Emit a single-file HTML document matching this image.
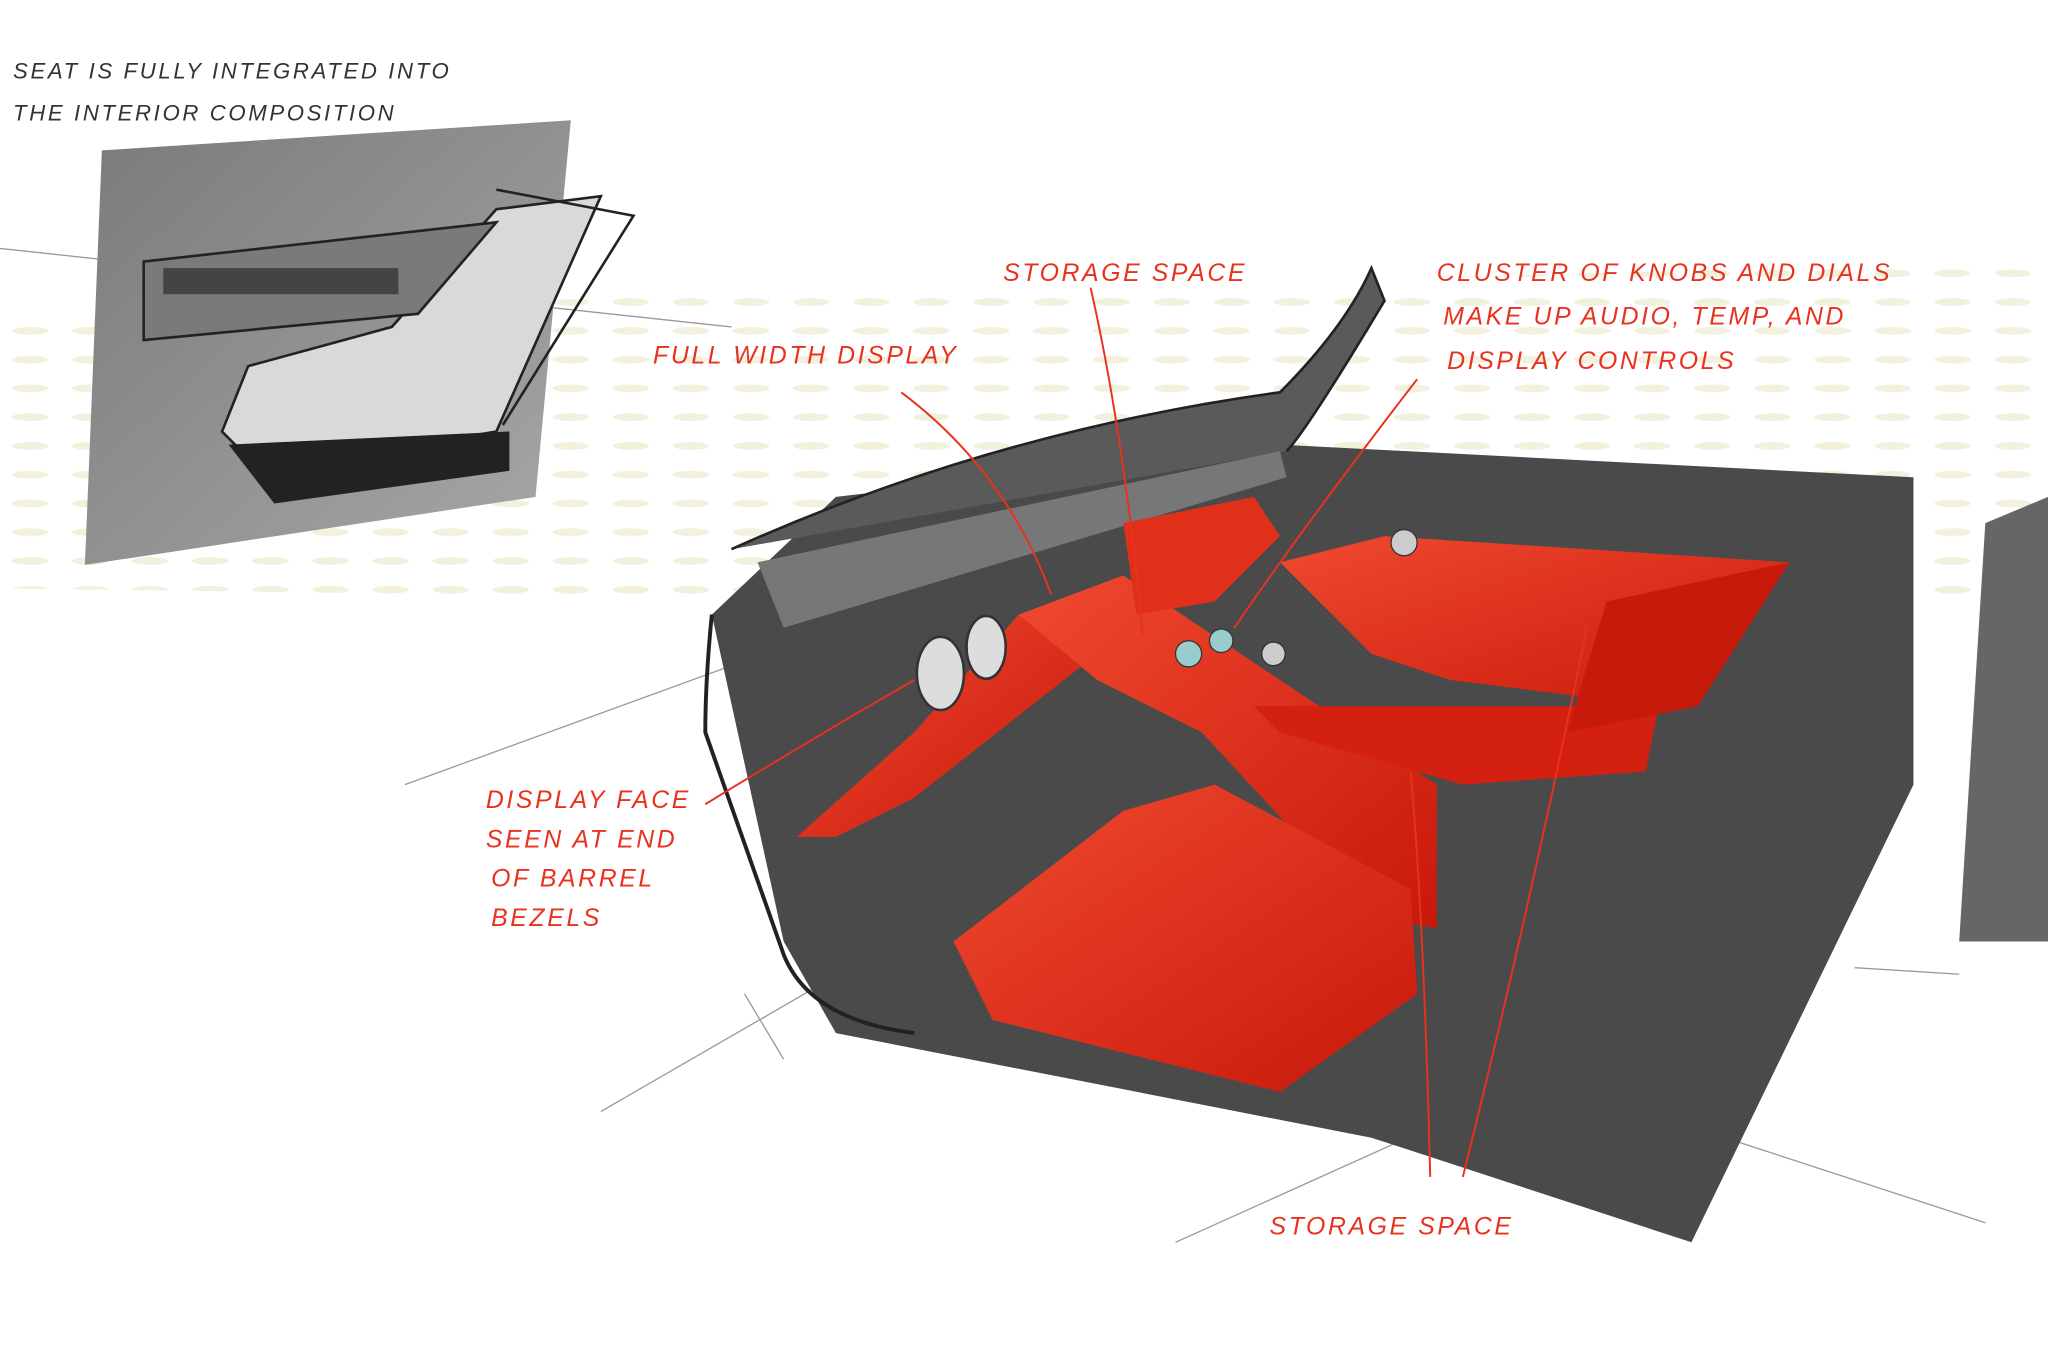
<!DOCTYPE html>
<html><head><meta charset="utf-8"><style>
html,body{margin:0;padding:0;background:#fff;}
svg{display:block;}
.r{font-family:"Liberation Sans",sans-serif;fill:#e8321e;font-size:19px;letter-spacing:2px;font-style:italic;}
.k{font-family:"Liberation Sans",sans-serif;fill:#333;font-size:17px;letter-spacing:2px;font-style:italic;}
</style></head><body>
<svg width="2048" height="1360" viewBox="0 0 1568 1040" preserveAspectRatio="none" xmlns="http://www.w3.org/2000/svg">
<defs>
<pattern id="dots" width="46" height="22" patternUnits="userSpaceOnUse">
<ellipse cx="23" cy="11" rx="14" ry="3" fill="#ebe6c8"/>
</pattern>
<linearGradient id="g1" x1="0" y1="0" x2="1" y2="1"><stop offset="0" stop-color="#7a7a7a"/><stop offset="1" stop-color="#a8a8a8"/></linearGradient>
<linearGradient id="red" x1="0" y1="0" x2="1" y2="1"><stop offset="0" stop-color="#f04a30"/><stop offset="1" stop-color="#c8180a"/></linearGradient>
</defs>
<rect width="1568" height="1040" fill="#fff"/>
<polygon points="0,240 1568,200 1568,470 0,450" fill="url(#dots)" opacity="0.6"/>
<g stroke="#999" stroke-width="1" fill="none">
<line x1="0" y1="190" x2="560" y2="250"/><line x1="310" y1="600" x2="640" y2="480"/>
<line x1="460" y1="850" x2="720" y2="700"/><line x1="900" y1="950" x2="1100" y2="860"/>
<line x1="1290" y1="860" x2="1520" y2="935"/><line x1="1420" y1="740" x2="1500" y2="745"/>
<line x1="570" y1="760" x2="600" y2="810"/>
</g>
<polygon points="78,115 437,92 410,380 65,432" fill="url(#g1)"/>
<polygon points="380,160 460,150 380,330 200,360 170,330 190,280 300,250" fill="#d9d9d9" stroke="#222" stroke-width="2"/>
<polygon points="110,200 380,170 320,240 110,260" fill="#7a7a7a" stroke="#222" stroke-width="2"/>
<rect x="125" y="205" width="180" height="20" fill="#444"/>
<polygon points="175,340 390,330 390,360 210,385" fill="#222"/>
<polyline points="380,145 485,165 385,325" fill="none" stroke="#222" stroke-width="2"/>
<polygon points="545,470 640,380 980,340 1465,365 1465,600 1295,950 1050,870 640,790 600,720" fill="#4a4a4a"/>
<path d="M545,470 Q540,520 540,560 L600,730 Q620,780 700,790" fill="none" stroke="#222" stroke-width="3"/>
<path d="M560,420 Q760,330 980,300 Q1030,250 1050,205 L1060,230 Q1000,330 985,345" fill="#5a5a5a" stroke="#222" stroke-width="2"/>
<polygon points="580,430 980,345 985,365 600,480" fill="#777"/>
<polygon points="1520,400 1568,380 1568,720 1500,720" fill="#666"/>
<polygon points="610,640 700,560 780,470 830,460 840,500 700,610 640,640" fill="url(#red)"/>
<polygon points="780,470 860,440 980,520 1100,600 1100,710 1050,700 920,560 840,520" fill="url(#red)"/>
<polygon points="860,400 960,380 980,410 930,460 870,470" fill="#e0301a"/>
<polygon points="980,430 1060,410 1370,430 1270,540 1110,520 1050,500" fill="url(#red)"/>
<polygon points="960,540 1270,540 1260,590 1120,600 980,560" fill="#d42010"/>
<polygon points="730,720 860,620 930,600 1080,680 1085,760 980,835 760,780" fill="url(#red)"/>
<polygon points="1230,460 1370,430 1300,540 1200,560" fill="#c81a0a"/>
<ellipse cx="720" cy="515" rx="18" ry="28" fill="#ddd" stroke="#333" stroke-width="2"/>
<ellipse cx="755" cy="495" rx="15" ry="24" fill="#ddd" stroke="#333" stroke-width="2"/>
<circle cx="910" cy="500" r="10" fill="#9cc" stroke="#333"/><circle cx="935" cy="490" r="9" fill="#9cc" stroke="#333"/>
<circle cx="975" cy="500" r="9" fill="#ccc" stroke="#333"/><circle cx="1075" cy="415" r="10" fill="#ccc" stroke="#333"/>
<g stroke="#e8321e" stroke-width="1.5" fill="none">
<path d="M690,300 Q770,360 805,455"/><path d="M835,220 Q860,330 875,485"/>
<path d="M1085,290 Q1000,400 945,480"/><path d="M540,615 Q630,560 700,520"/>
<path d="M1095,900 Q1090,700 1080,590"/><path d="M1120,900 Q1170,700 1215,480"/>
</g>
<text class="k" x="10" y="60">SEAT IS FULLY INTEGRATED INTO</text>
<text class="k" x="10" y="92">THE INTERIOR COMPOSITION</text>
<text class="r" x="768" y="215">STORAGE SPACE</text>
<text class="r" x="500" y="278">FULL WIDTH DISPLAY</text>
<text class="r" x="1100" y="215">CLUSTER OF KNOBS AND DIALS</text>
<text class="r" x="1105" y="248">MAKE UP AUDIO, TEMP, AND</text>
<text class="r" x="1108" y="282">DISPLAY CONTROLS</text>
<text class="r" x="372" y="618">DISPLAY FACE</text>
<text class="r" x="372" y="648">SEEN AT END</text>
<text class="r" x="376" y="678">OF BARREL</text>
<text class="r" x="376" y="708">BEZELS</text>
<text class="r" x="972" y="944">STORAGE SPACE</text>
</svg>
</body></html>
